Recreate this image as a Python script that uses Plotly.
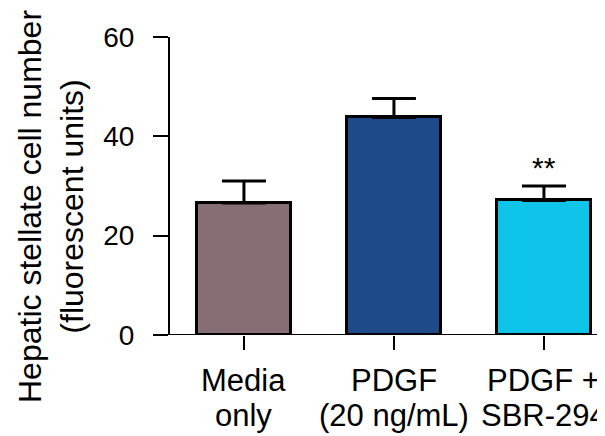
import plotly.graph_objects as go

label_line1 = ["Media", "PDGF", "PDGF +"]
label_line2 = ["only", "(20 ng/mL)", "SBR-294"]
means = [26.6, 43.8, 27.1]
errors = [4.4, 3.8, 2.9]
colors = ["#876E75", "#1F4A8A", "#0EC4E8"]
significance = ["", "", "**"]
y_ticks = [0, 20, 40, 60]
y_title = "Hepatic stellate cell number<br>(fluorescent units)"

FONT = "Arial, Liberation Sans, Helvetica, sans-serif"
x_pos = list(range(len(label_line1)))

# page has an 8px body margin; figure is sized to fill the rest of the window
W, H = 597, 428
ML, MT, MB = 162, 29, 101
PW, PH = W - ML, H - MT - MB

fig = go.Figure()
fig.add_trace(go.Bar(
    x=x_pos, y=means, width=0.627,
    marker=dict(color=colors, line=dict(color="black", width=3)),
    error_y=dict(type="data", array=errors, arrayminus=[0] * len(errors),
                 symmetric=False, color="black", thickness=3, width=22),
    showlegend=False,
))

for xi, m, e, s in zip(x_pos, means, errors, significance):
    if s:
        fig.add_annotation(x=xi, y=m + e + 3.8, text=s, showarrow=False,
                           font=dict(family=FONT, size=30, color="black"),
                           xanchor="center", yanchor="middle")

for xi, l1, l2 in zip(x_pos, label_line1, label_line2):
    fig.add_annotation(x=xi, yref="paper", y=-45 / PH, text=l1, showarrow=False,
                       font=dict(family=FONT, size=31, color="black"),
                       xanchor="center", yanchor="middle")
    fig.add_annotation(x=xi, yref="paper", y=-80 / PH, text=l2, showarrow=False,
                       font=dict(family=FONT, size=31, color="black"),
                       xanchor="center", yanchor="middle")

fig.add_annotation(xref="paper", yref="paper", x=(51 - 170) / PW, y=(335 - 207) / PH,
                   text=y_title, textangle=-90, showarrow=False,
                   font=dict(family=FONT, size=32, color="black"),
                   xanchor="center", yanchor="middle")

# x axis baseline extending left past the y axis (Prism style)
fig.add_shape(type="line", xref="paper", yref="y", x0=-15 / PW, x1=1, y0=0, y1=0,
              line=dict(color="black", width=2))

fig.update_layout(
    width=W, height=H,
    margin=dict(l=ML, r=0, t=MT, b=MB, autoexpand=False),
    paper_bgcolor="white", plot_bgcolor="white",
    font=dict(family=FONT, size=28, color="black"),
    bargap=0,
)
fig.update_xaxes(range=[-0.493, 2.407], tickvals=x_pos, showticklabels=False,
                 showline=False, ticks="outside", ticklen=14, tickwidth=2,
                 tickcolor="black", showgrid=False, zeroline=False)
fig.update_yaxes(range=[0, 60], tickvals=y_ticks, showline=True, linecolor="black",
                 linewidth=2, ticks="outside", ticklen=15, tickwidth=2,
                 tickcolor="black", showgrid=False, zeroline=False,
                 tickfont=dict(family=FONT, size=28, color="black"),
                 ticklabelstandoff=13)

fig.write_html("out.html")
